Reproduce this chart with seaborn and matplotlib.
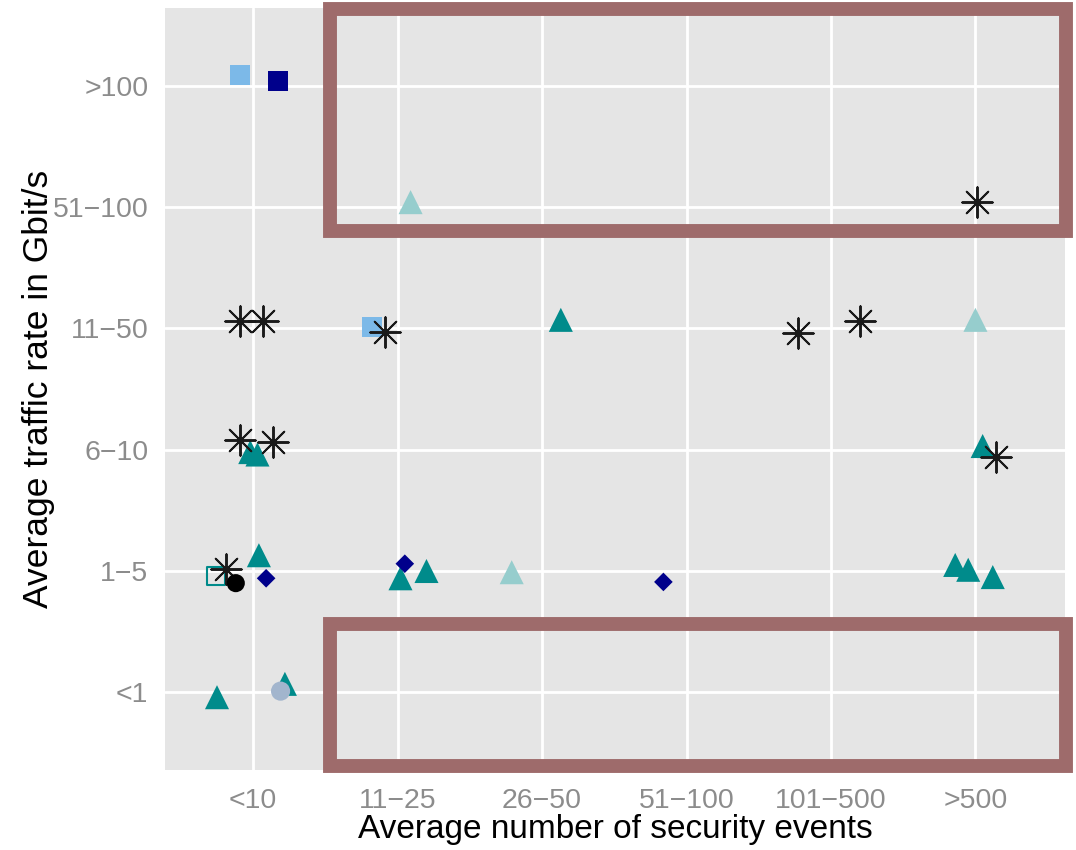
import matplotlib
matplotlib.use("Agg")
import matplotlib.pyplot as plt
from matplotlib.patches import Rectangle
import seaborn as sns
import pandas as pd

# Category labels
x_categories = ["<10", "11\u221225", "26\u221250", "51\u2212100", "101\u2212500", ">500"]
y_categories = ["<1", "1\u22125", "6\u221210", "11\u221250", "51\u2212100", ">100"]

# Jittered positions of each observation (category index + jitter)
teal_tri_x = [-0.02, 0.03, 2.13, 5.05, 0.04, 1.02, 1.20, 4.86, 4.95, 5.12, -0.25, 0.22]
teal_tri_y = [1.98, 1.96, 3.07, 2.03, 1.13, 0.94, 1.00, 1.05, 1.01, 0.95, -0.04, 0.07]

light_tri_x = [1.09, 5.00, 1.79]
light_tri_y = [4.04, 3.07, 0.99]

light_sq_x = [-0.09, 0.82]
light_sq_y = [5.09, 3.01]

navy_sq_x = [0.17]
navy_sq_y = [5.04]

navy_dia_x = [0.09, 1.05, 2.84]
navy_dia_y = [0.94, 1.06, 0.91]

open_sq_x = [-0.26]
open_sq_y = [0.96]

star_x = [5.01, -0.09, 0.07, 0.91, 3.77, 4.20, -0.09, 0.14, 5.14, -0.19]
star_y = [4.04, 3.06, 3.06, 2.97, 2.96, 3.06, 2.08, 2.06, 1.94, 1.02]

black_dot_x = [-0.12]
black_dot_y = [0.90]

grey_dot_x = [0.19]
grey_dot_y = [0.01]

TEAL = "#008b8b"
LIGHT_TEAL = "#96cdcd"
LIGHT_BLUE = "#7cb9e8"
NAVY = "#00008b"

sns.set_theme(style="darkgrid")
plt.rcParams["font.family"] = ["Liberation Sans", "DejaVu Sans"]

fig = plt.figure(figsize=(10.76, 8.5), dpi=100)
ax = fig.add_axes([165 / 1076, 80 / 850, 900 / 1076, 762 / 850])
ax.set_facecolor("#e5e5e5")


def layer(xs, ys, **kw):
    df = pd.DataFrame({"x": xs, "y": ys})
    sns.scatterplot(data=df, x="x", y="y", ax=ax, legend=False, **kw)


layer(teal_tri_x, teal_tri_y, marker="^", s=300, color=TEAL, edgecolor="none")
layer(light_tri_x, light_tri_y, marker="^", s=300, color=LIGHT_TEAL, edgecolor="none")
layer(light_sq_x, light_sq_y, marker="s", s=210, color=LIGHT_BLUE, edgecolor="none")
layer(navy_sq_x, navy_sq_y, marker="s", s=210, color=NAVY, edgecolor="none")
layer(navy_dia_x, navy_dia_y, marker="D", s=90, color=NAVY, edgecolor="none")
layer(open_sq_x, open_sq_y, marker="s", s=170, facecolors="none", edgecolor=TEAL, linewidth=1.5)
layer(star_x, star_y, marker=(8, 2, 0), s=480, color="#1a1a1a", linewidth=1.4)
layer(black_dot_x, black_dot_y, marker="o", s=170, color="black", edgecolor="none")
layer(grey_dot_x, grey_dot_y, marker="o", s=190, color="#a2b5cd", edgecolor="none")

ax.set_xlim(-0.61, 5.62)
ax.set_ylim(-0.64, 5.64)
ax.set_xticks(range(len(x_categories)))
ax.set_xticklabels(x_categories)
ax.set_yticks(range(len(y_categories)))
ax.set_yticklabels(y_categories)
ax.grid(True, color="white", linewidth=2)
ax.set_axisbelow(True)
for sp in ax.spines.values():
    sp.set_visible(False)
ax.tick_params(axis="both", which="major", length=7, width=1.5, color="#4d4d4d",
               labelsize=20.5, labelcolor="#8c8c8c", pad=5)
ax.tick_params(axis="x", pad=6)
ax.set_xlabel("Average number of security events", fontsize=24, color="black", labelpad=0)
ax.set_ylabel("Average traffic rate in Gbit/s", fontsize=25.5, color="black", labelpad=-2)

# Highlight boxes around the empty regions (figure pixel coordinates)
W, H = 1076, 850
BOX = "#9e6b6b"
for left, top, right, bottom in [(330, 9, 1066, 231), (330, 624, 1066, 766)]:
    fig.add_artist(Rectangle((left / W, 1 - bottom / H), (right - left) / W, (bottom - top) / H,
                             transform=fig.transFigure, fill=False, edgecolor=BOX,
                             linewidth=10, joinstyle="miter"))

fig.savefig("out.png", dpi=100)
